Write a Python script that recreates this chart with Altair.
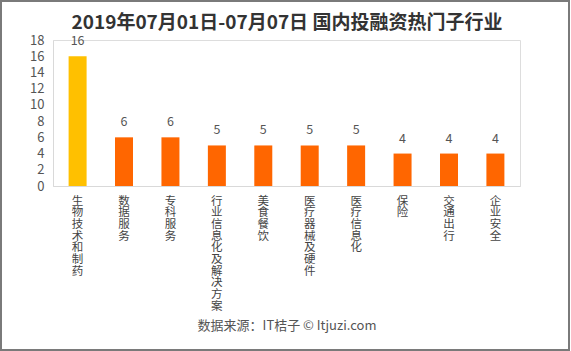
import altair as alt
import pandas as pd

categories = ["生物技术和制药", "数据服务", "专科服务", "行业信息化及解决方案", "美食餐饮",
              "医疗器械及硬件", "医疗信息化", "保险", "交通出行", "企业安全"]
values = [16, 6, 6, 5, 5, 5, 5, 4, 4, 4]
highlight = ["top", "other", "other", "other", "other", "other", "other", "other", "other", "other"]
y_ticks = [0, 2, 4, 6, 8, 10, 12, 14, 16, 18]

title_text = "2019年07月01日-07月07日 国内投融资热门子行业"
source_text = "数据来源：IT桔子 © Itjuzi.com"

df = pd.DataFrame({"cat": categories, "val": values, "grp": highlight})

FONT = "Noto Sans CJK SC"

x_enc = alt.X("cat:N", sort=categories,
              scale=alt.Scale(paddingInner=0.61, paddingOuter=0.335),
              axis=alt.Axis(title=source_text, titleFont=FONT, titleFontSize=13,
                            titleFontWeight="normal", titleColor="#555555",
                            titleY=139, titleBaseline="middle",
                            labelAngle=0, labelFont=FONT, labelFontSize=11.5,
                            labelColor="#444444", labelExpr="split(datum.label, '')",
                            labelLineHeight=11.7, labelBaseline="top", labelPadding=9,
                            labelOverlap=False,
                            ticks=False, domainColor="#d9d9d9", labelAlign="center"))
y_enc = alt.Y("val:Q", scale=alt.Scale(domain=[0, 18]),
              axis=alt.Axis(title=None, values=y_ticks, grid=False, ticks=False,
                            labelFont=FONT, labelFontSize=13, labelColor="#555555",
                            labelPadding=9, labelOverlap=False, labelFlush=False,
                            domainColor="#d9d9d9"))

bars = alt.Chart(df).mark_bar(size=18).encode(
    x=x_enc, y=y_enc,
    color=alt.Color("grp:N", scale=alt.Scale(domain=["top", "other"],
                                              range=["#FFC000", "#FF6600"]), legend=None),
)

labels = alt.Chart(df).mark_text(dy=-15, font=FONT, fontSize=12.5, color="#555555",
                                 baseline="middle").encode(
    x=x_enc, y=y_enc, text="val:Q")

title = alt.Chart(pd.DataFrame({"t": [title_text]})).mark_text(
    font=FONT, fontSize=19, fontWeight="bold", color="#333333",
    align="center", baseline="middle").encode(
    text="t:N", x=alt.value(234), y=alt.value(-17))

frame = alt.Chart(df).mark_rect(fill=None, stroke="#7a7a7a", strokeWidth=2).encode(
    x=alt.value(-52), x2=alt.value(516), y=alt.value(-39), y2=alt.value(310))

chart = alt.layer(bars, labels, title, frame).properties(
    width=467, height=146,
    autosize=alt.AutoSizeParams(type="none"),
    padding={"left": 53, "top": 40, "right": 51, "bottom": 165},
).configure_view(stroke=None).configure(background="white")

chart.save("out.html", embed_options={"renderer": "svg", "actions": False})
